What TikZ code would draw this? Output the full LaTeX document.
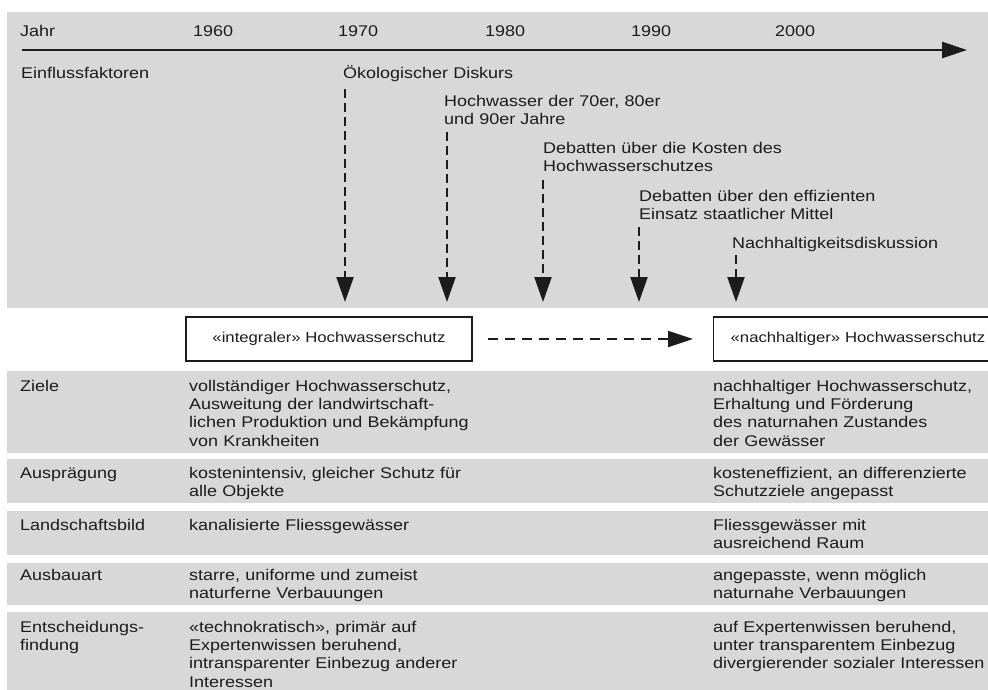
\documentclass[tikz,border=0pt]{standalone}
\usepackage{fontspec}
\setmainfont[FakeStretch=1.16]{Liberation Sans}
\usetikzlibrary{arrows.meta}
\definecolor{bandgray}{RGB}{216,216,216}
\definecolor{ink}{RGB}{28,28,28}
\begin{document}
\begin{tikzpicture}[x=1pt,y=-1pt,
  every node/.style={font=\fontsize{15.5}{18.4}\selectfont, text=ink},
  txt/.style={anchor=base west, inner sep=0pt, align=left, text width=290pt},
  band/.style={fill=bandgray, draw=none},
  hbox/.style={draw=ink, line width=1.4pt, minimum height=44pt, inner sep=0pt, font=\fontsize{14.4}{17}\selectfont},
  vdash/.style={draw=ink, line width=2.2pt, dash pattern=on 9pt off 5pt, -{Triangle[length=25pt,width=17pt]}},
  hdash/.style={draw=ink, line width=2.2pt, dash pattern=on 10pt off 7pt, -{Triangle[length=25pt,width=16pt]}},
  axisline/.style={draw=ink, line width=2.8pt, -{Triangle[length=25pt,width=16pt]}}]
\useasboundingbox (0,0) rectangle (988,689);
\clip (0,0) rectangle (988,689);
\fill[white] (0,0) rectangle (988,689);
% bands
\path[band] (7,12) rectangle (990,308);
\path[band] (7,371) rectangle (990,453);
\path[band] (7,459) rectangle (990,503);
\path[band] (7,511) rectangle (990,555);
\path[band] (7,563) rectangle (990,605);
\path[band] (7,612) rectangle (990,691);
% time axis
\node[txt] (jahr) at (20,36) {Jahr};
\node[txt] (y1960) at (193,36) {1960};
\node[txt] (y1970) at (338,36) {1970};
\node[txt] (y1980) at (485,36) {1980};
\node[txt] (y1990) at (631,36) {1990};
\node[txt] (y2000) at (775,36) {2000};
\coordinate (ax0) at (22,50);
\coordinate (ax1) at (967,50);
\draw[axisline] (ax0) -- (ax1);
% factors
\node[txt] (einfl) at (21,78) {Einflussfaktoren};
\node[txt] (f1) at (343,78) {Ökologischer Diskurs};
\node[txt] (f2) at (444,106) {Hochwasser der 70er, 80er\\und 90er Jahre};
\node[txt] (f3) at (543,153) {Debatten über die Kosten des\\Hochwasserschutzes};
\node[txt] (f4) at (639,201) {Debatten über den effizienten\\Einsatz staatlicher Mittel};
\node[txt] (f5) at (732,248) {Nachhaltigkeitsdiskussion};
\coordinate (a1s) at (345,89);  \coordinate (a1e) at (345,302);
\coordinate (a2s) at (447,132); \coordinate (a2e) at (447,302);
\coordinate (a3s) at (543,180); \coordinate (a3e) at (543,302);
\coordinate (a4s) at (639,227); \coordinate (a4e) at (639,302);
\coordinate (a5s) at (736,255); \coordinate (a5e) at (736,302);
\draw[vdash] (a1s) -- (a1e);
\draw[vdash] (a2s) -- (a2e);
\draw[vdash] (a3s) -- (a3e);
\draw[vdash] (a4s) -- (a4e);
\draw[vdash] (a5s) -- (a5e);
% boxes
\node[hbox, minimum width=286pt] (box1) at (329,339) {«integraler» Hochwasserschutz};
\node[hbox, anchor=west, inner xsep=17pt, text width=300pt, align=left] (box2) at (713,339) {«nachhaltiger» Hochwasserschutz};
\draw[hdash] ([xshift=15pt]box1.east) -- ([xshift=-20pt]box2.west);
% rows
\node[txt] (lz) at (20,391) {Ziele};
\node[txt] (mz) at (189,391) {vollständiger Hochwasserschutz,\\Ausweitung der landwirtschaft-\\lichen Produktion und Bekämpfung\\von Krankheiten};
\node[txt] (rz) at (713,391) {nachhaltiger Hochwasserschutz,\\Erhaltung und Förderung\\des naturnahen Zustandes\\der Gewässer};
\node[txt] (la) at (20,478) {Ausprägung};
\node[txt] (ma) at (189,478) {kostenintensiv, gleicher Schutz für\\alle Objekte};
\node[txt] (ra) at (713,478) {kosteneffizient, an differenzierte\\Schutzziele angepasst};
\node[txt] (ll) at (20,530) {Landschaftsbild};
\node[txt] (ml) at (189,530) {kanalisierte Fliessgewässer};
\node[txt] (rl) at (713,530) {Fliessgewässer mit\\ausreichend Raum};
\node[txt] (lb) at (20,580) {Ausbauart};
\node[txt] (mb) at (189,580) {starre, uniforme und zumeist\\naturferne Verbauungen};
\node[txt] (rb) at (713,580) {angepasste, wenn möglich\\naturnahe Verbauungen};
\node[txt] (le) at (20,632) {Entscheidungs-\\findung};
\node[txt] (me) at (189,632) {«technokratisch», primär auf\\Expertenwissen beruhend,\\intransparenter Einbezug anderer\\Interessen};
\node[txt] (re) at (713,632) {auf Expertenwissen beruhend,\\unter transparentem Einbezug\\divergierender sozialer Interessen};
\end{tikzpicture}
\end{document}
